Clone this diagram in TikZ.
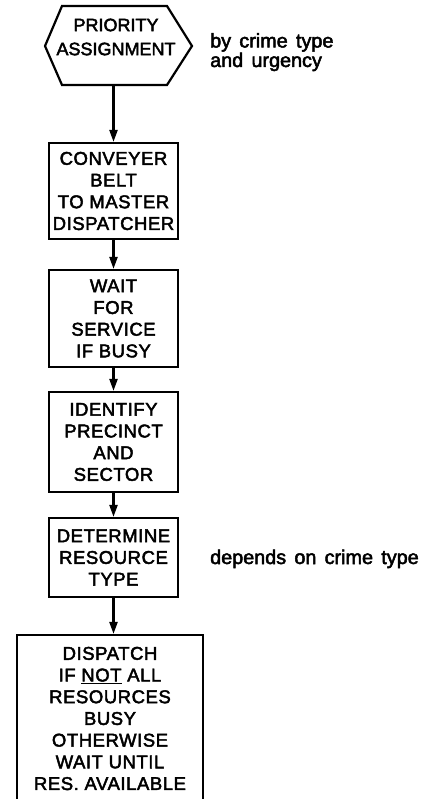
\documentclass[tikz,border=0pt]{standalone}
\usepackage{fontspec}
\setmainfont{Liberation Sans}
\newfontfamily\lettering{Liberation Sans}[LetterSpace=3, FakeBold=2.5]
\newfontfamily\hexlettering{Liberation Sans}[FakeBold=2.5]
\newfontfamily\handnote{Liberation Sans}[WordSpace=1.5, FakeBold=2.5]
\usetikzlibrary{arrows.meta}
\begin{document}
\begin{tikzpicture}[x=1pt,y=-1pt,
  boxtext/.style={inner sep=0pt, align=center, font=\lettering\fontsize{18.5}{21.7}\selectfont},
  procbox/.style={boxtext, draw, line width=2.2pt},
  sidetext/.style={anchor=base west, align=left, inner sep=0pt, font=\handnote\fontsize{19.8}{19.5}\selectfont},
  outline/.style={line width=2.2pt, line join=miter},
  flow/.style={line width=2.2pt, -{Triangle[length=12pt,width=8pt]}}]
\useasboundingbox (0,0) rectangle (430,799);
\clip (0,0) rectangle (430,799);
% hexagon
\coordinate (h1) at (45,46);
\coordinate (h2) at (62,6);
\coordinate (h3) at (167,6);
\coordinate (h4) at (192,46);
\coordinate (h5) at (167,85);
\coordinate (h6) at (62,85);
\coordinate (hexbot) at (113.5,85);
\draw[outline] (h1) -- (h2) -- (h3) -- (h4) -- (h5) -- (h6) -- cycle;
\node[boxtext, font=\hexlettering\fontsize{18}{24}\selectfont] (hex) at (116,37) {PRIORITY\\ASSIGNMENT};
\node[sidetext] (note1) at (210,67) {by crime type\\and urgency};
% boxes
\node[procbox, minimum width=129pt, minimum height=96pt] (b1) at (113.5,191) {CONVEYER\\BELT\\TO MASTER\\DISPATCHER};
\node[procbox, minimum width=129pt, minimum height=97pt] (b2) at (113.5,318.5) {WAIT\\FOR\\SERVICE\\IF BUSY};
\node[procbox, minimum width=129pt, minimum height=100pt] (b3) at (113.5,442) {IDENTIFY\\PRECINCT\\AND\\SECTOR};
\node[procbox, minimum width=129pt, minimum height=79pt] (b4) at (113.5,557.5) {DETERMINE\\RESOURCE\\TYPE};
\node[sidetext] (note2) at (210,564) {depends on crime type};
\node[procbox, minimum width=186pt, minimum height=167pt] (b5) at (110,718.5) {DISPATCH\\IF \underline{NOT} ALL\\RESOURCES\\BUSY\\OTHERWISE\\WAIT UNTIL\\RES. AVAILABLE};
% connectors
\draw[flow] (hexbot) -- (b1.north);
\draw[flow] (b1.south) -- (b2.north);
\draw[flow] (b2.south) -- (b3.north);
\draw[flow] (b3.south) -- (b4.north);
\draw[flow] (b4.south) -- (b4.south |- b5.north);
\end{tikzpicture}
\end{document}
